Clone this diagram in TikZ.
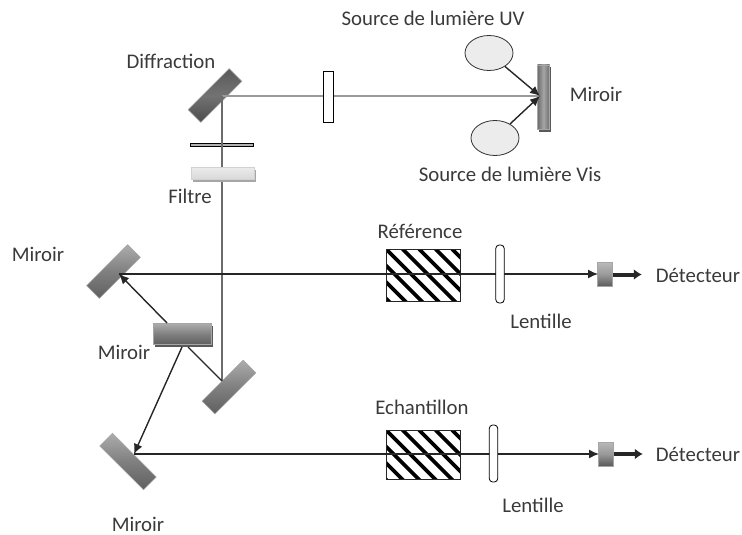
\documentclass[tikz,border=0pt]{standalone}
\usepackage{fontspec}
\setmainfont{Carlito}
\definecolor{ink}{HTML}{3A3A3A}
\definecolor{beam}{HTML}{999999}
\usetikzlibrary{arrows.meta,shapes.geometric,shadows}
\tikzset{
 x=1pt,y=-1pt,
 lab/.style={text=ink,font=\fontsize{20.8}{22}\selectfont,inner sep=0pt},
 mirrorbox/.style={draw=gray!70,line width=.5pt,inner sep=0pt,outer sep=0pt,
   top color=gray!65,bottom color=gray!75!black,middle color=gray},
 darkmirror/.style={mirrorbox,top color=gray!70!black,bottom color=gray!60!black,middle color=gray!90!black},
 graybeam/.style={draw=beam,line width=2pt},
 thinbeam/.style={draw=gray!85!black,line width=1.2pt},
 ray/.style={draw=black!85,line width=1.4pt},
 rayarrow/.style={ray,-{Latex[length=10pt,width=9pt]}},
 lamp/.style={ellipse,draw=black!80,fill=gray!15,line width=.8pt,minimum width=48pt,minimum height=35pt,inner sep=0pt},
 plate/.style={draw=black,fill=white,line width=.8pt,inner sep=0pt},
 hatchbox/.style={draw=black!85,fill=white,line width=1pt,inner sep=0pt,minimum width=74pt,
  path picture={\foreach \i in {-66,-49.5,...,82}{\draw[black,line width=3.6pt]
    ([xshift=\i pt]path picture bounding box.north west) -- ++(60pt,-60pt);}}},
 detbox/.style={draw=gray!70,line width=.5pt,inner sep=0pt,minimum width=15pt,minimum height=24pt,
   top color=gray!55,bottom color=gray!70!black,middle color=gray!80},
 thickarrow/.style={draw=black!85,line width=4pt,-{Latex[length=8pt,width=11pt]}},
 dropdark/.style={drop shadow={shadow xshift=1pt,shadow yshift=-2.5pt,fill=black!65,opacity=1}},
}
\begin{document}
\begin{tikzpicture}
\useasboundingbox (0,0) rectangle (742,535);
% mirrors
\node[darkmirror,minimum width=58pt,minimum height=18pt,rotate=45] (diff) at (215,95.5) {};
\node[mirrorbox,minimum width=58pt,minimum height=18pt,rotate=45] (mtl) at (113.5,271.5) {};
\node[mirrorbox,minimum width=58pt,minimum height=18pt,rotate=45] (mlow) at (229,387) {};
\node[mirrorbox,minimum width=62pt,minimum height=18pt,rotate=-45] (mbl) at (128,461.5) {};
\node[mirrorbox,dropdark,minimum width=58pt,minimum height=21pt] (mcen) at (182.5,334) {};
\node[mirrorbox,dropdark,minimum width=12pt,minimum height=64pt,left color=gray!85!black,right color=gray!85!black,middle color=gray!70] (mtop) at (543.5,97) {};
\coordinate (dhit) at (222,96);
\coordinate (thit) at (540,96);
\coordinate (tlhit) at (119,274);
\coordinate (blhit) at (134,454);
\coordinate (lowhit) at (222,381);
\coordinate (cenA) at (167,323);
\coordinate (cenB) at (188,347);
\coordinate (cenC) at (182,347);
% sources
\node[lamp] (uv) at (489,53) {};
\node[lamp] (vis) at (495,138) {};
% beams
\draw[graybeam] (dhit) -- (thit);
\draw[thinbeam] (dhit) -- (lowhit);
\draw[rayarrow] (uv) -- (thit);
\draw[rayarrow] (vis) -- (thit);
% optics on grey beam
\node[plate,minimum width=10pt,minimum height=51pt] (slitv) at (328,96.5) {};
\node[draw=black,fill=gray!60,line width=.8pt,inner sep=0pt,minimum width=63pt,minimum height=3.5pt] (slith) at (222,145) {};
\draw[thinbeam] (slith.north) -- (slith.south);
\node[draw=gray!35,line width=.5pt,inner sep=0pt,minimum width=63pt,minimum height=12pt,top color=gray!15,bottom color=gray!30,
  drop shadow={shadow xshift=1.5pt,shadow yshift=-3pt,fill=gray!70,opacity=1}] (filt) at (222.5,173) {};
% rays
\draw[ray] (cenB) -- (lowhit);
\draw[rayarrow] (cenA) -- (tlhit);
\draw[rayarrow] (cenC) -- (blhit);
% detectors
\node[detbox] (det1) at (605,274.5) {};
\node[detbox] (det2) at (606,454) {};
\coordinate (det1in) at (598,274);
\coordinate (det2in) at (599,454);
\draw[thickarrow] (det1.east) -- ++(29,0) coordinate (det1out);
\draw[thickarrow] (det2.east) -- ++(29,0) coordinate (det2out);
% optical lines
\draw[rayarrow] (tlhit) -- (det1in);
\draw[rayarrow] (blhit) -- (det2in);
% cells, drawn with the ray visible through
\node[hatchbox,minimum height=52pt] (ref) at (423,275) {};
\node[hatchbox,minimum height=49pt] (ech) at (423,454.5) {};
\draw[ray] (ref.west |- tlhit) -- (ref.east |- tlhit);
\draw[ray] (ech.west |- blhit) -- (ech.east |- blhit);
% lenses
\node[plate,rounded corners=3.5pt,minimum width=8.5pt,minimum height=58pt] (lens1) at (500,274) {};
\node[plate,rounded corners=3.5pt,minimum width=8.5pt,minimum height=57pt] (lens2) at (493.5,453.5) {};
% labels
\node[lab] (l1) at (433,18) {Source de lumière UV};
\node[lab] (l2) at (510,174) {Source de lumière Vis};
\node[lab] (l3) at (596,94) {Miroir};
\node[lab] (l4) at (171,61) {Diffraction};
\node[lab] (l5) at (190,196) {Filtre};
\node[lab] (l6) at (38,254) {Miroir};
\node[lab] (l7) at (124,352) {Miroir};
\node[lab] (l8) at (138,524) {Miroir};
\node[lab] (l9) at (420,231) {Référence};
\node[lab] (l10) at (541,321) {Lentille};
\node[lab] (l11) at (698,275) {Détecteur};
\node[lab] (l12) at (422,407) {Echantillon};
\node[lab] (l13) at (533,505) {Lentille};
\node[lab] (l14) at (698,454) {Détecteur};
\end{tikzpicture}
\end{document}
